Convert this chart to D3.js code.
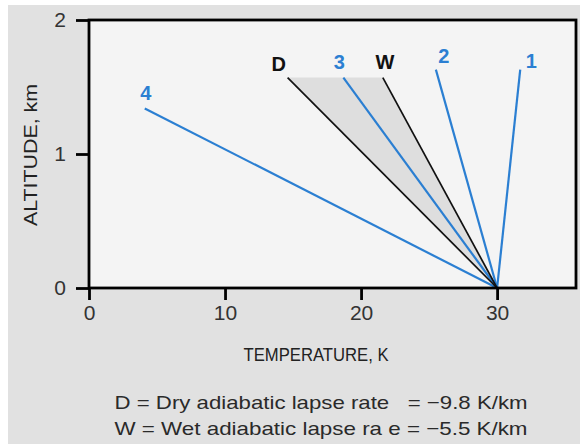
<!DOCTYPE html>
<html><head><meta charset="utf-8">
<script src="https://cdn.jsdelivr.net/npm/d3@7/dist/d3.min.js"></script>
<style>body{margin:0;background:#fff}svg{display:block}</style>
</head><body><svg id="c" width="580" height="444"></svg>
<script>
const lineNames = ["1","2","3","4","D","W"];
const endTemps  = [31.7, 25.5, 18.7, 4.1, 14.6, 21.6];
const endAlts   = [1.63, 1.63, 1.57, 1.34, 1.57, 1.57];
const lineKinds = ["env","env","env","env","adiabat","adiabat"];
const startTemp = 30, startAlt = 0;
const xTicks = [0, 10, 20, 30];
const yTicks = [0, 1, 2];
const footnotes = ["D = Dry adiabatic lapse rate   = \u22129.8 K/km", "W = Wet adiabatic lapse ra e = \u22125.5 K/km"];

const FONT = "Liberation Sans, Arial, sans-serif";
const svg = d3.select("#c");
const blue = "#2b7fd2";
svg.append("rect").attr("x",8).attr("y",5).attr("width",572).attr("height",439).attr("fill","#e1e1e1");

const x = d3.scaleLinear().domain([0, 35.8]).range([89, 576]);
const y = d3.scaleLinear().domain([0, 2]).range([288, 20]);

svg.append("rect").attr("x",x(0)).attr("y",y(2)).attr("width",x(35.8)-x(0)).attr("height",y(0)-y(2)).attr("fill","#f4f4f4");

const iD = lineNames.indexOf("D"), iW = lineNames.indexOf("W");
svg.append("path")
  .attr("d", d3.line()([[x(startTemp),y(startAlt)],[x(endTemps[iD]),y(endAlts[iD])],[x(endTemps[iW]),y(endAlts[iW])]]))
  .attr("fill","#dedede");

const labelOffset = {"1":[11,-2],"2":[8,-7],"3":[-4,-9],"4":[1,-8],"D":[-9,-7],"W":[2,-9]};
lineNames.forEach((n,i)=>{
  const isEnv = lineKinds[i]==="env";
  svg.append("line")
    .attr("x1",x(startTemp)).attr("y1",y(startAlt))
    .attr("x2",x(endTemps[i])).attr("y2",y(endAlts[i]))
    .attr("stroke", isEnv?blue:"#111").attr("stroke-width", isEnv?2.2:1.7);
  const o = labelOffset[n];
  svg.append("text")
    .attr("x", x(endTemps[i]) + o[0])
    .attr("y", y(endAlts[i]) + o[1])
    .attr("text-anchor","middle").attr("font-family",FONT)
    .attr("font-size",20).attr("font-weight","bold")
    .attr("fill", isEnv?blue:"#111").text(n);
});

svg.append("rect").attr("x",x(0)).attr("y",y(2)).attr("width",x(35.8)-x(0)).attr("height",y(0)-y(2))
  .attr("fill","none").attr("stroke","#000").attr("stroke-width",2.8);

const xAxis = svg.append("g").attr("transform",`translate(0,${y(0)})`)
  .call(d3.axisBottom(x).tickValues(xTicks).tickSize(12).tickPadding(5).tickFormat(d3.format("d")));
const yAxis = svg.append("g").attr("transform",`translate(${x(0)},0)`)
  .call(d3.axisLeft(y).tickValues(yTicks).tickSize(13).tickPadding(10).tickFormat(d3.format("d")));
[xAxis,yAxis].forEach(g=>{
  g.attr("font-family",FONT).attr("font-size",21);
  g.select(".domain").remove();
  g.selectAll(".tick line").attr("stroke","#000").attr("stroke-width",2.8);
  g.selectAll(".tick text").attr("fill","#333");
});

svg.append("text").attr("x",316).attr("y",361).attr("text-anchor","middle").attr("font-family",FONT)
  .attr("font-size",19).attr("fill","#222").attr("textLength",145).attr("lengthAdjust","spacingAndGlyphs").text("TEMPERATURE, K");
svg.append("text").attr("transform","translate(37,155) rotate(-90)").attr("text-anchor","middle").attr("font-family",FONT)
  .attr("font-size",19).attr("fill","#222").attr("textLength",142).attr("lengthAdjust","spacingAndGlyphs").text("ALTITUDE, km");

footnotes.forEach((t,i)=>{
  svg.append("text").attr("x",321).attr("y",409+i*26).attr("text-anchor","middle").attr("font-family",FONT)
    .attr("font-size",19).attr("fill","#2a2a2a").attr("textLength",413).attr("lengthAdjust","spacingAndGlyphs")
    .style("white-space","pre").text(t);
});
</script></body></html>
